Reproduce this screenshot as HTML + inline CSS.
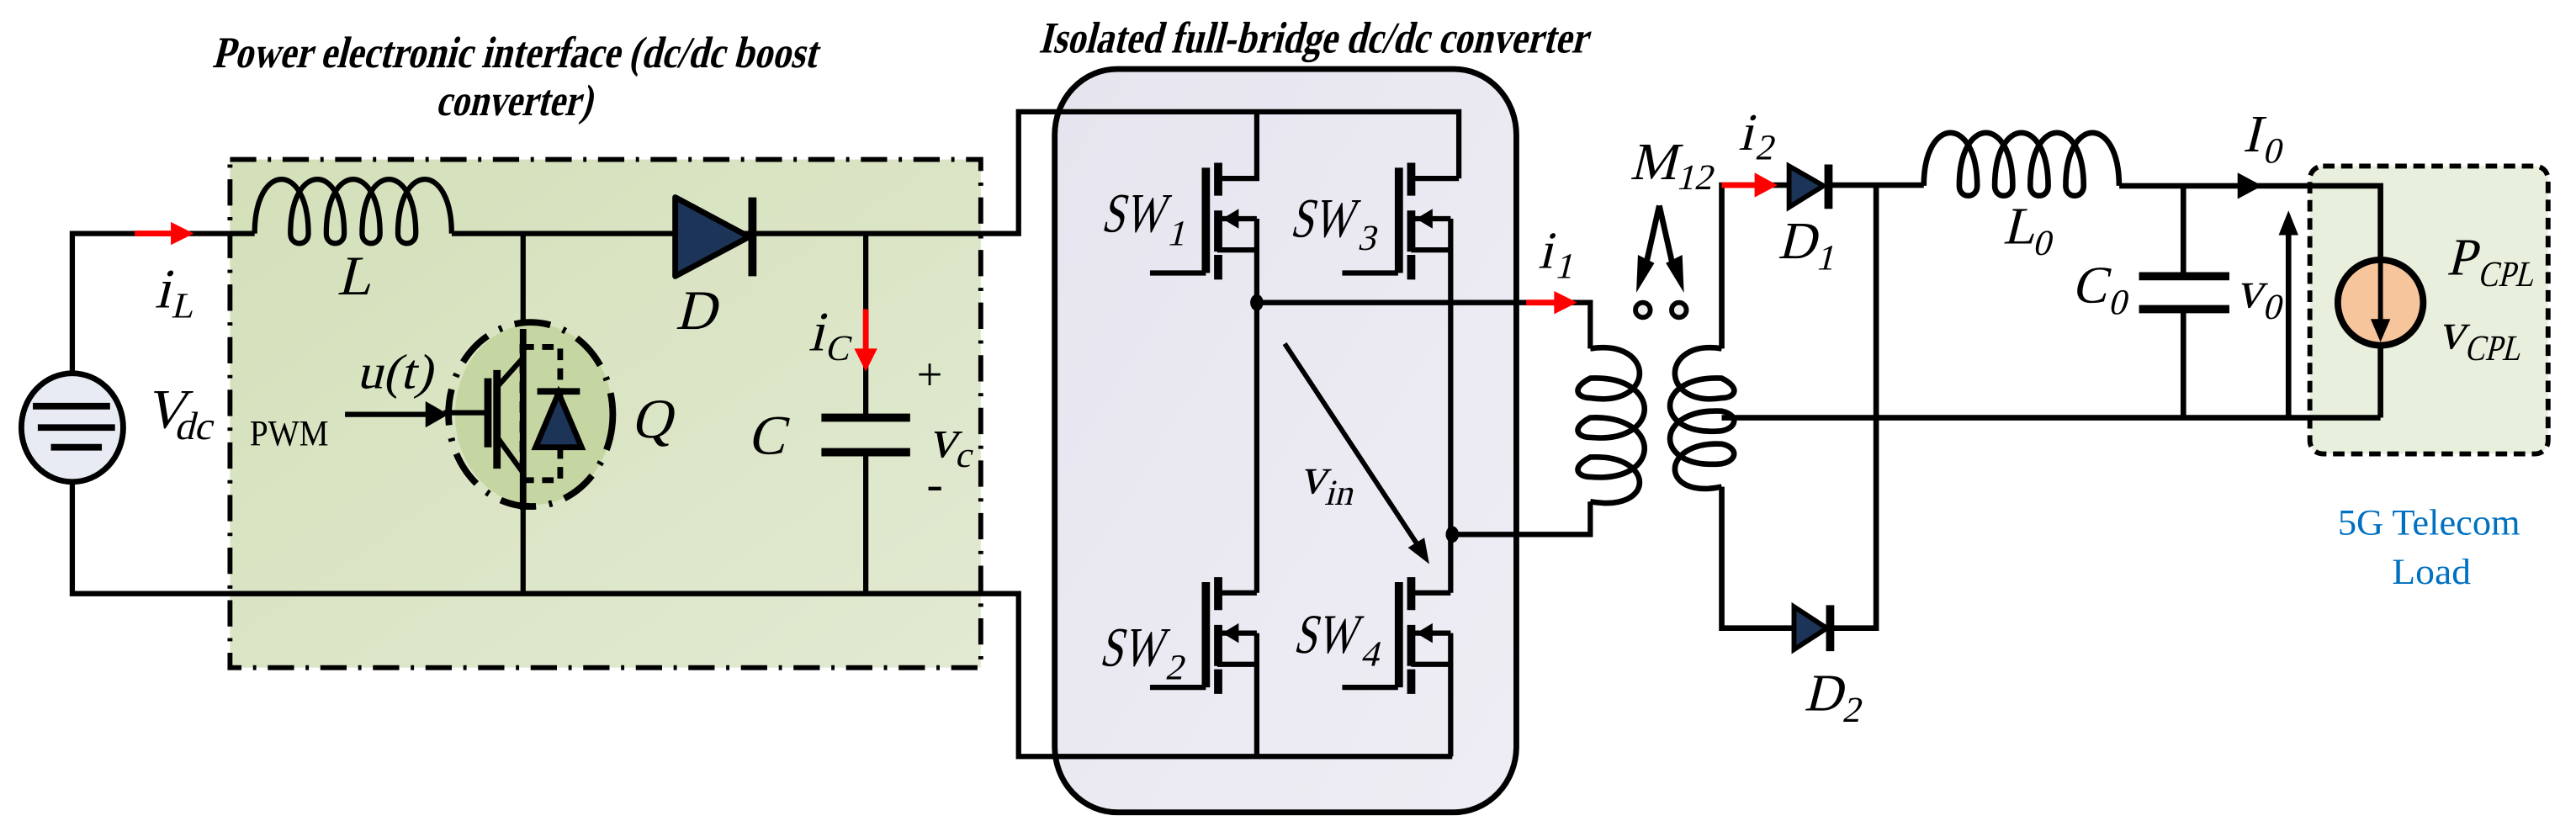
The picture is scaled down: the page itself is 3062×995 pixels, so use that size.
<!DOCTYPE html>
<html><head><meta charset="utf-8"><style>
html,body{margin:0;padding:0;background:#fff;}
svg{display:block;}
text{font-family:"Liberation Serif","Times New Roman",serif;font-style:normal;fill:#000;}
</style></head><body>
<svg width="3062" height="995" viewBox="0 0 1568 509" preserveAspectRatio="none" xmlns="http://www.w3.org/2000/svg" font-family="Liberation Serif, serif">
<defs>
<linearGradient id="gg" x1="0" y1="0" x2="1" y2="1"><stop offset="0" stop-color="#d3e0b9"/><stop offset="1" stop-color="#e2ead2"/></linearGradient>
<linearGradient id="pg" x1="0" y1="0" x2="1" y2="1"><stop offset="0" stop-color="#e6e4ee"/><stop offset="1" stop-color="#efedf4"/></linearGradient>
</defs>

<!-- titles -->
<text transform="translate(129,41) skewX(-14)" font-size="27" font-weight="bold" textLength="368" lengthAdjust="spacingAndGlyphs">Power electronic interface (dc/dc boost</text>
<text transform="translate(265,70) skewX(-14)" font-size="27" font-weight="bold" textLength="95" lengthAdjust="spacingAndGlyphs">converter)</text>
<text transform="translate(632,32) skewX(-14)" font-size="27" font-weight="bold" textLength="334" lengthAdjust="spacingAndGlyphs">Isolated full-bridge dc/dc converter</text>

<rect x="140" y="97" width="457" height="309" fill="url(#gg)" stroke="#000" stroke-width="3" stroke-dasharray="16 7 2 7"/>
<rect x="642" y="42" width="281" height="452" rx="38" ry="40" fill="url(#pg)" stroke="#000" stroke-width="3.5"/>
<rect x="1406" y="101" width="145" height="175" rx="8" fill="#e8efdc" stroke="#000" stroke-width="3" stroke-dasharray="7 4"/>

<g fill="none" stroke="#000" stroke-width="3.2" stroke-linejoin="miter">
<polyline points="155,142 44,142 44,226"/>
<polyline points="44,293 44,361 620,361 620,460 884,460"/>
<path d="M155,142 C155,98 187.7,98 187.7,142 C187.7,150 176.8,150 176.8,142 C176.8,98 209.5,98 209.5,142 C209.5,150 198.6,150 198.6,142 C198.6,98 231.3,98 231.3,142 C231.3,150 220.4,150 220.4,142 C220.4,98 253.1,98 253.1,142 C253.1,150 242.2,150 242.2,142 C242.2,98 274.9,98 274.9,142"/>
<polyline points="275,142 620,142 620,68 888,68 888,108.5"/>
<line x1="318.4" y1="142" x2="318.4" y2="361"/>
<line x1="527" y1="142" x2="527" y2="254"/>
<line x1="527" y1="275" x2="527" y2="361"/>
</g>
<g stroke="#000" stroke-width="5">
<line x1="500" y1="254" x2="554" y2="254"/>
<line x1="500" y1="275" x2="554" y2="275"/>
</g>

<ellipse cx="44" cy="260" rx="31" ry="33" fill="#e8ebf3" stroke="#000" stroke-width="3.5"/>
<g stroke="#000" stroke-width="4">
<line x1="20" y1="247" x2="67" y2="247"/>
<line x1="23" y1="260" x2="70" y2="260"/>
<line x1="31" y1="272" x2="62" y2="272"/>
</g>

<polygon points="411,120 411,168 456,144" fill="#1c3458" stroke="#000" stroke-width="3.5" stroke-linejoin="round"/>
<line x1="458" y1="120" x2="458" y2="168" stroke="#000" stroke-width="5"/>

<ellipse cx="325" cy="252" rx="48" ry="55" fill="#c5d6a2"/>
<ellipse cx="323" cy="252" rx="50" ry="56" fill="none" stroke="#000" stroke-width="4" stroke-dasharray="22 8 2 8"/>
<line x1="318.4" y1="200" x2="318.4" y2="310" stroke="#000" stroke-width="4"/>
<rect x="318" y="211" width="23" height="81" fill="none" stroke="#000" stroke-width="3.5" stroke-dasharray="7 5"/>
<polygon points="340,239 326,272 354,272" fill="#1c3458" stroke="#000" stroke-width="3.5"/>
<line x1="327" y1="238" x2="353" y2="238" stroke="#000" stroke-width="4"/>
<g stroke="#000" stroke-width="4.5">
<line x1="297" y1="230" x2="297" y2="272"/>
<line x1="302.5" y1="225" x2="302.5" y2="285"/>
</g>
<g stroke="#000" stroke-width="3.2">
<line x1="270" y1="251" x2="297" y2="251"/>
<line x1="302" y1="236" x2="318" y2="218"/>
<line x1="302" y1="265" x2="318" y2="287"/>
<line x1="210" y1="252" x2="262" y2="252"/>
</g>
<polygon points="273,252 259,244 259,260" fill="#000"/>

<line x1="82" y1="142" x2="108" y2="142" stroke="#f00" stroke-width="3.5"/>
<polygon points="118,142 104,135 104,149" fill="#f00"/>
<line x1="527" y1="188" x2="527" y2="214" stroke="#f00" stroke-width="3.5"/>
<polygon points="527,226 520,212 534,212" fill="#f00"/>

<g fill="none" stroke="#000" stroke-width="3.2">
<polyline points="765,68 765,108.5 741,108.5"/>
<line x1="741" y1="133" x2="765" y2="133"/>
<line x1="741" y1="152" x2="765" y2="152"/>
<line x1="765" y1="133" x2="765" y2="360.5"/>
<line x1="741" y1="360.5" x2="765" y2="360.5"/>
<line x1="741" y1="385" x2="765" y2="385"/>
<line x1="741" y1="404" x2="765" y2="404"/>
<line x1="765" y1="385" x2="765" y2="460"/>
<line x1="700" y1="166" x2="734" y2="166"/>
<line x1="700" y1="418" x2="734" y2="418"/>
<line x1="859" y1="108.5" x2="888" y2="108.5"/>
<line x1="859" y1="133" x2="883" y2="133"/>
<line x1="859" y1="152" x2="883" y2="152"/>
<line x1="883" y1="133" x2="883" y2="360.5"/>
<line x1="859" y1="360.5" x2="883" y2="360.5"/>
<line x1="859" y1="385" x2="883" y2="385"/>
<line x1="859" y1="404" x2="883" y2="404"/>
<line x1="883" y1="385" x2="883" y2="460"/>
<line x1="817" y1="166" x2="851" y2="166"/>
<line x1="817" y1="418" x2="851" y2="418"/>
<polyline points="765,184 968,184 968,212"/>
<polyline points="883,325 968,325 968,305"/>
</g>
<g stroke="#000" stroke-width="5">
<line x1="734" y1="102" x2="734" y2="166"/>
<line x1="741.5" y1="99" x2="741.5" y2="119"/>
<line x1="741.5" y1="128" x2="741.5" y2="153"/>
<line x1="741.5" y1="155" x2="741.5" y2="170"/>
<line x1="734" y1="354" x2="734" y2="418"/>
<line x1="741.5" y1="351" x2="741.5" y2="371"/>
<line x1="741.5" y1="380" x2="741.5" y2="405"/>
<line x1="741.5" y1="407" x2="741.5" y2="422"/>
<line x1="851.5" y1="102" x2="851.5" y2="166"/>
<line x1="859" y1="99" x2="859" y2="119"/>
<line x1="859" y1="128" x2="859" y2="153"/>
<line x1="859" y1="155" x2="859" y2="170"/>
<line x1="851.5" y1="354" x2="851.5" y2="418"/>
<line x1="859" y1="351" x2="859" y2="371"/>
<line x1="859" y1="380" x2="859" y2="405"/>
<line x1="859" y1="407" x2="859" y2="422"/>
</g>
<g fill="#000">
<polygon points="744,133 754,127 754,139"/>
<polygon points="744,385 754,379 754,391"/>
<polygon points="862,133 872,127 872,139"/>
<polygon points="862,385 872,379 872,391"/>
<ellipse cx="765" cy="184" rx="4" ry="5"/>
<ellipse cx="884" cy="325" rx="4" ry="5"/>
</g>
<line x1="782" y1="209" x2="864" y2="333" stroke="#000" stroke-width="3"/>
<polygon points="870,343 857,333 867,327" fill="#000"/>
<line x1="929" y1="184" x2="950" y2="184" stroke="#f00" stroke-width="3.5"/>
<polygon points="960,184 946,177 946,191" fill="#f00"/>

<g fill="none" stroke="#000" stroke-width="3.4">
<path d="M968,212 C1008,206 1008,248 968,242 C960,242 956,236 968,230 C1012,228 1012,270 968,266 C960,266 956,260 968,254 C1012,252 1012,294 968,290 C960,290 956,284 968,278 C1008,276 1008,312 968,305"/>
<path d="M1048,212 C1010,206 1010,248 1048,242 C1056,242 1060,236 1048,230 C1006,228 1006,266 1048,262 C1058,260 1058,252 1048,250 C1006,248 1006,286 1048,282 C1058,280 1058,272 1048,270 C1010,268 1010,304 1048,296"/>
<polyline points="1048,212 1048,112.6 1089,112.6"/>
<polyline points="1048,296 1048,382 1092,382"/>
<polyline points="1113,112.6 1171,112.6"/>
<polyline points="1142,112.6 1142,382 1114,382"/>
<line x1="1048" y1="254" x2="1449" y2="254"/>
<path d="M1171,113 C1171,70 1203.5,70 1203.5,113 C1203.5,121 1192.6,121 1192.6,113 C1192.6,70 1225.1,70 1225.1,113 C1225.1,121 1214.2,121 1214.2,113 C1214.2,70 1246.7,70 1246.7,113 C1246.7,121 1235.8,121 1235.8,113 C1235.8,70 1268.3,70 1268.3,113 C1268.3,121 1257.4,121 1257.4,113 C1257.4,70 1289.9,70 1289.9,113"/>
<polyline points="1290,113 1449,113 1449,158"/>
<line x1="1449" y1="210" x2="1449" y2="254"/>
<line x1="1329" y1="113" x2="1329" y2="168"/>
<line x1="1329" y1="188" x2="1329" y2="254"/>
<line x1="1393" y1="254" x2="1393" y2="140"/>
</g>
<g stroke="#000" stroke-width="5">
<line x1="1302" y1="168" x2="1357" y2="168"/>
<line x1="1302" y1="188" x2="1357" y2="188"/>
<line x1="1113" y1="100" x2="1113" y2="127"/>
<line x1="1114" y1="368" x2="1114" y2="396"/>
</g>
<polygon points="1089,101 1089,126 1110,113" fill="#1c3458" stroke="#000" stroke-width="3"/>
<polygon points="1092,369 1092,395 1112,382" fill="#1c3458" stroke="#000" stroke-width="3"/>
<g fill="#000">
<polygon points="1393,128 1387,143 1399,143"/>
<polygon points="1377,113 1362,105 1362,121"/>
</g>
<circle cx="1000" cy="188.5" r="4.5" fill="#eee" stroke="#000" stroke-width="3"/>
<circle cx="1022" cy="188.5" r="4.5" fill="#eee" stroke="#000" stroke-width="3"/>
<g stroke="#000" stroke-width="3.5"><line x1="1010" y1="125" x2="1001" y2="165"/><line x1="1010" y1="125" x2="1019" y2="165"/></g>
<polygon points="996,178 997,155 1007,160" fill="#000"/>
<polygon points="1025,178 1024,155 1014,160" fill="#000"/>
<line x1="1048" y1="112.6" x2="1072" y2="112.6" stroke="#f00" stroke-width="3.5"/>
<polygon points="1082,112.6 1068,105 1068,120" fill="#f00"/>

<ellipse cx="1449" cy="184" rx="26" ry="26" fill="#f7c59b" stroke="#000" stroke-width="4"/>
<line x1="1449" y1="158" x2="1449" y2="196" stroke="#000" stroke-width="3"/>
<polygon points="1449,208 1443,194 1455,194" fill="#000"/>

<!-- labels (faux italic) -->
<g>
<text transform="translate(94,187) skewX(-14)" font-size="34">i</text><text transform="translate(104,193) skewX(-14)" font-size="22">L</text>
<text transform="translate(205,179) skewX(-14)" font-size="34">L</text>
<text transform="translate(411,200) skewX(-14)" font-size="34">D</text>
<text transform="translate(217,236) skewX(-14)" font-size="30" textLength="46" lengthAdjust="spacingAndGlyphs">u(t)</text>
<text x="152" y="271" font-size="22" textLength="48" lengthAdjust="spacingAndGlyphs">PWM</text>
<text transform="translate(384,266) skewX(-14)" font-size="34">Q</text>
<text transform="translate(88,260) skewX(-14)" font-size="34">V</text><text transform="translate(106,267) skewX(-14)" font-size="24">dc</text>
<text transform="translate(492,213) skewX(-14)" font-size="34">i</text><text transform="translate(502,219) skewX(-14)" font-size="22">C</text>
<text transform="translate(455,276) skewX(-14)" font-size="34">C</text>
<text x="558" y="237" font-size="28">+</text>
<text transform="translate(565,278) skewX(-14)" font-size="34">v</text><text transform="translate(581,284) skewX(-14)" font-size="22">c</text>
<text x="564" y="304" font-size="30">-</text>
<text transform="translate(670,141) skewX(-14)" font-size="34" textLength="38" lengthAdjust="spacingAndGlyphs">SW</text><text transform="translate(710,149) skewX(-14)" font-size="22">1</text>
<text transform="translate(669,405) skewX(-14)" font-size="34" textLength="38" lengthAdjust="spacingAndGlyphs">SW</text><text transform="translate(709,413) skewX(-14)" font-size="22">2</text>
<text transform="translate(785,144) skewX(-14)" font-size="34" textLength="38" lengthAdjust="spacingAndGlyphs">SW</text><text transform="translate(826,152) skewX(-14)" font-size="22">3</text>
<text transform="translate(787,397) skewX(-14)" font-size="34" textLength="38" lengthAdjust="spacingAndGlyphs">SW</text><text transform="translate(828,405) skewX(-14)" font-size="22">4</text>
<text transform="translate(791,300) skewX(-14)" font-size="32">v</text><text transform="translate(806,307) skewX(-14)" font-size="22">in</text>
<text transform="translate(936,163) skewX(-14)" font-size="32">i</text><text transform="translate(946,169) skewX(-14)" font-size="22">1</text>
<text transform="translate(992,109) skewX(-14)" font-size="32">M</text><text transform="translate(1020,115) skewX(-14)" font-size="22">12</text>
<text transform="translate(1058,91) skewX(-14)" font-size="32">i</text><text transform="translate(1068,97) skewX(-14)" font-size="22">2</text>
<text transform="translate(1082,157) skewX(-14)" font-size="32">D</text><text transform="translate(1105,164) skewX(-14)" font-size="22">1</text>
<text transform="translate(1098,432) skewX(-14)" font-size="32">D</text><text transform="translate(1121,439) skewX(-14)" font-size="22">2</text>
<text transform="translate(1219,148) skewX(-14)" font-size="32">L</text><text transform="translate(1237,155) skewX(-14)" font-size="22">0</text>
<text transform="translate(1365,92) skewX(-14)" font-size="32">I</text><text transform="translate(1377,99) skewX(-14)" font-size="22">0</text>
<text transform="translate(1261,184) skewX(-14)" font-size="32">C</text><text transform="translate(1283,191) skewX(-14)" font-size="22">0</text>
<text transform="translate(1361,187) skewX(-14)" font-size="32">v</text><text transform="translate(1377,194) skewX(-14)" font-size="22">0</text>
<text transform="translate(1489,167) skewX(-14)" font-size="32">P</text><text transform="translate(1508,174) skewX(-14)" font-size="22" textLength="34" lengthAdjust="spacingAndGlyphs">CPL</text>
<text transform="translate(1484,212) skewX(-14)" font-size="32">v</text><text transform="translate(1500,219) skewX(-14)" font-size="22" textLength="34" lengthAdjust="spacingAndGlyphs">CPL</text>
</g>
<text x="1423" y="325" font-size="22" fill="#0070c0" style="fill:#0070c0" textLength="111" lengthAdjust="spacingAndGlyphs">5G Telecom</text>
<text x="1456" y="355" font-size="22" fill="#0070c0" style="fill:#0070c0" textLength="48" lengthAdjust="spacingAndGlyphs">Load</text>
</svg>
</body></html>
